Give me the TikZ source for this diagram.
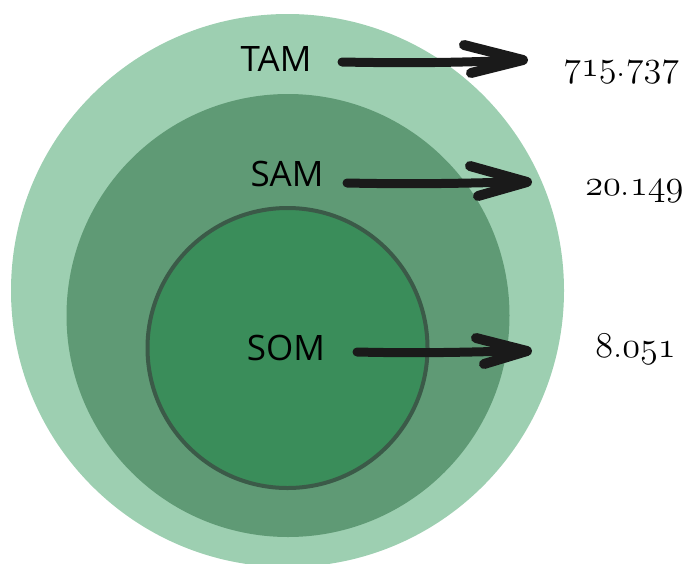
\documentclass[tikz,border=0pt]{standalone}
\usepackage{fontspec}
\setmainfont{Open Sans}
\newcommand\osnum[1]{{\usefont{OML}{lmm}{b}{it}#1}}
\newcommand\numstyle{\fontfamily{lmr}\fontsize{17.5}{20}\selectfont}
\definecolor{tamc}{HTML}{9DCFB1}
\definecolor{samc}{HTML}{5F9A75}
\definecolor{somc}{HTML}{3A8D5A}
\definecolor{somb}{HTML}{3B5A48}
\definecolor{ink}{HTML}{1A1A1A}
\tikzset{
  lbl/.style={inner sep=0pt, font=\fontsize{35}{40}\selectfont, text=black},
  num/.style={inner sep=0pt, anchor=base west, font=\numstyle, text=black, scale=2.1, transform shape},
  shaft/.style={draw=ink, line width=9pt, line cap=round},
  headstroke/.style={draw=ink, line width=10pt, line cap=round, line join=round},
}
\begin{document}
\begin{tikzpicture}[x=1pt,y=-1pt]
\useasboundingbox (0,0) rectangle (690,563);
\clip (0,0) rectangle (690,563);
\fill[tamc] (287.5,290.5) circle (276.5);
\fill[samc] (288,315.5) circle (221.5);
\filldraw[fill=somc, draw=somb, line width=4pt] (287.5,348) circle (140);
\node[lbl] (tam) at (276,59) {TAM};
\node[lbl] (sam) at (287,174) {SAM};
\node[lbl] (som) at (286,348) {SOM};
\node[num] (n1) at (563,76) {\osnum{715}.\osnum{737}};
\node[num] (n2) at (585,195) {\osnum{20}.\osnum{149}};
\node[num] (n3) at (595,357) {\osnum{8}.\osnum{051}};
\coordinate (s1) at (342,62); \coordinate (t1) at (523,60);
\coordinate (s2) at (347,183); \coordinate (t2) at (527,182);
\coordinate (s3) at (357,352); \coordinate (t3) at (527,351);
\draw[shaft] (s1) .. controls (440,64) and (490,61) .. (t1);
\draw[headstroke] (464,45) -- (t1) -- (471,73);
\draw[shaft] (s2) .. controls (440,185) and (490,182) .. (t2);
\draw[headstroke] (470,166) -- (t2) -- (478,196);
\draw[shaft] (s3) .. controls (440,354) and (490,351) .. (t3);
\draw[headstroke] (476,338) -- (t3) -- (484,364);
\end{tikzpicture}
\end{document}
